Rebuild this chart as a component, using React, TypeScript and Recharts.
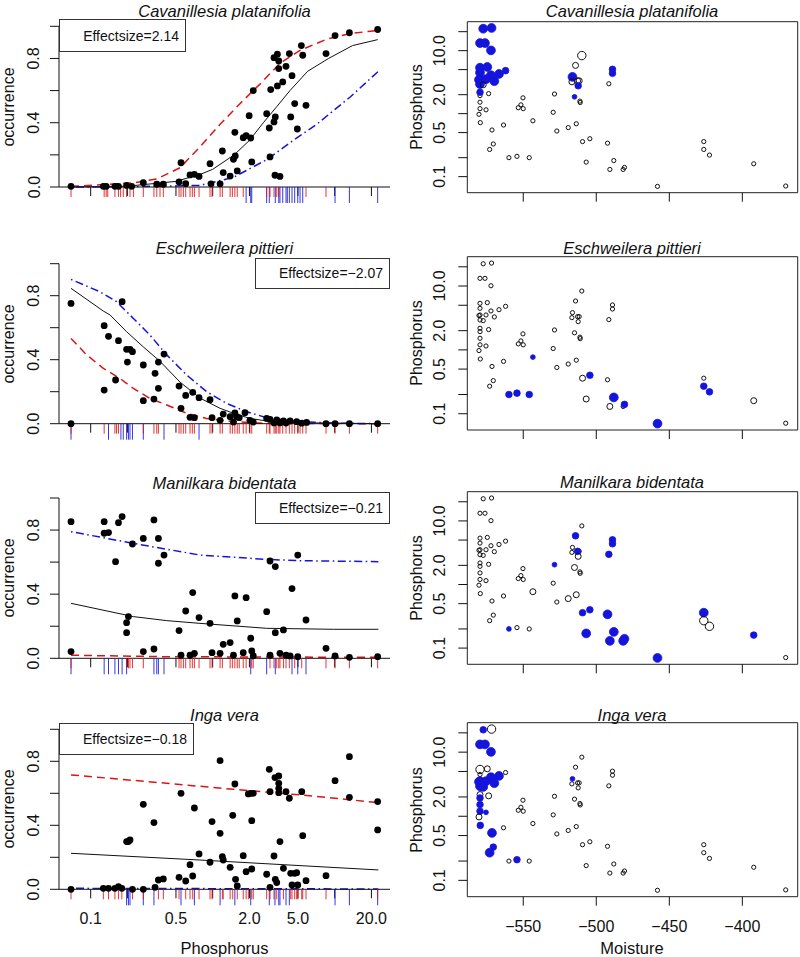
import React from 'react';
import { ComposedChart, ScatterChart, Scatter, Line, XAxis, YAxis, ReferenceArea } from 'recharts';

const FONT = '"Liberation Sans", Arial, Helvetica, sans-serif';
const INK = '#111111';
const RED = '#DD1414';
const BLUE = '#1414DD';

// ---------------- axis ticks ----------------
const phosphorusTicks = [0.1, 0.2, 0.5, 1, 2, 5, 10, 20];
const phosphorusXLabels: Record<string, string> = { '0.1': '0.1', '0.5': '0.5', '2': '2.0', '5': '5.0', '20': '20.0' };
const phosphorusYLabels: Record<string, string> = { '0.1': '0.1', '0.5': '0.5', '2': '2.0', '10': '10.0' };
const occurrenceTicks = [0, 0.2, 0.4, 0.6, 0.8, 1];
const occurrenceLabels: Record<string, string> = { '0': '0.0', '0.4': '0.4', '0.8': '0.8' };
const moistureTicks = [-550, -500, -450, -400];
const moistureLabels: Record<string, string> = { '-550': '\u2212550', '-500': '\u2212500', '-450': '\u2212450', '-400': '\u2212400' };

// ---------------- species ----------------
const speciesNames = ['Cavanillesia platanifolia', 'Eschweilera pittieri', 'Manilkara bidentata', 'Inga vera'];
const effectSizes = ['2.14', '\u22122.07', '\u22120.21', '\u22120.18'];

// ---------------- sites (right column) ----------------
const siteMoisture = [-577.4, -571.7, -579.6, -576.2, -572.1, -579.6, -579.6, -574.6, -572.1, -566.6,
  -562.1, -579.6, -580.3, -575.5, -569.8, -579.6, -577.4, -573.7, -579.6, -579.6,
  -579.6, -579.6, -575.5, -580.3, -579.4, -571.4, -570.5, -573.0, -563.5, -550.2,
  -551.6, -553.4, -550.0, -543.4, -559.8, -554.3, -545.9, -529.5, -528.6, -527.0,
  -519.2, -513.7, -509.9, -514.2, -516.3, -516.7, -512.8, -511.7, -512.4, -514.9,
  -511.2, -511.0, -491.4, -488.9, -488.9, -492.3, -426.4, -370.3, -504.4, -488.0,
  -480.7, -458.1, -426.4, -422.5, -509.4, -506.9, -490.7, -481.6, -392.2];
const sitePhosphorus = [22.3, 22.9, 13.2, 13.2, 10.1, 5.36, 4.48, 5.5, 4.07, 4.26,
  4.81, 3.52, 3.45, 3.52, 3.28, 2.94, 2.87, 2.08, 2.18, 1.93,
  1.52, 1.20, 1.15, 0.976, 0.72, 0.55, 0.33, 0.27, 0.66, 1.78,
  1.38, 1.24, 1.20, 0.77, 0.20, 0.21, 0.20, 1.05, 2.05, 0.53,
  0.60, 0.69, 8.35, 5.83, 3.83, 3.2, 3.32, 3.32, 2.77, 1.85,
  1.58, 1.50, 2.98, 5.05, 4.37, 0.34, 0.36, 0.071, 0.40, 0.18,
  0.14, 0.070, 0.27, 0.22, 0.36, 0.17, 0.13, 0.13, 0.16];
// abundance class per site: 0 absent, 1-3 present (blue, increasing), 4-5 larger open symbols
const cavAbundance = [3, 3, 3, 3, 3, 3, 3, 3, 3, 3, 2, 3, 3, 3, 3, 3, 4, 0, 2, 0,
  0, 0, 0, 0, 0, 0, 0, 0, 0, 0, 0, 0, 0, 0, 0, 0, 0, 0, 0, 0,
  0, 0, 5, 4, 3, 4, 4, 4, 2, 1, 0, 0, 0, 2, 2, 0, 0, 0, 0, 0,
  0, 0, 0, 0, 0, 0, 0, 0, 0];
const eschAbundance = [0, 0, 0, 0, 0, 0, 0, 0, 0, 0, 0, 0, 0, 0, 0, 0, 0, 0, 0, 0,
  0, 0, 0, 0, 0, 0, 0, 0, 0, 0, 0, 0, 0, 1, 2, 2, 2, 0, 0, 0,
  0, 0, 0, 0, 0, 0, 0, 0, 0, 0, 0, 0, 0, 0, 0, 0, 0, 0, 2, 3,
  2, 3, 2, 2, 4, 4, 4, 0, 4];
const manAbundance = [0, 0, 0, 0, 0, 0, 0, 0, 0, 0, 0, 0, 0, 0, 0, 0, 0, 0, 0, 0,
  0, 0, 0, 0, 0, 0, 0, 0, 0, 0, 0, 0, 0, 4, 1, 0, 0, 0, 1, 0,
  4, 4, 0, 2, 0, 0, 2, 0, 4, 4, 0, 0, 2, 2, 2, 3, 3, 0, 2, 3,
  3, 3, 5, 5, 2, 3, 3, 3, 2];
const ingaAbundance = [2, 5, 3, 3, 3, 5, 0, 4, 3, 3, 0, 3, 3, 3, 3, 3, 3, 4, 4, 2,
  2, 2, 1, 4, 2, 3, 2, 3, 0, 0, 0, 0, 0, 0, 0, 2, 0, 0, 0, 0,
  0, 0, 0, 0, 1, 0, 0, 0, 0, 0, 0, 0, 0, 0, 0, 0, 0, 0, 0, 0,
  0, 0, 0, 0, 0, 0, 0, 0, 0];

// ---------------- occurrence points (left column) ----------------
const cavP = [0.069, 0.127, 0.134, 0.158, 0.169, 0.197, 0.217, 0.270, 0.348, 0.394, 0.530, 0.550, 0.601, 0.652, 0.708, 0.773, 0.951, 0.969, 1.15, 1.20, 1.22, 1.39, 1.48, 1.53, 1.52, 1.59, 1.78, 1.88, 2.05, 1.99, 2.09, 2.15, 2.77, 2.91, 2.95, 2.99, 3.18, 3.26, 3.18, 3.39, 3.48, 3.48, 3.39, 3.75, 3.24, 3.56, 3.99, 4.25, 4.47, 4.36, 4.70, 4.94, 5.33, 5.47, 5.82, 8.49, 10.07, 13.2, 22.5];
const cavOcc = [0.004, 0.004, 0.004, 0.004, 0.004, 0.01, 0.004, 0.027, 0.017, 0.017, 0.031, 0.151, 0.021, 0.075, 0.079, 0.066, 0.145, 0.02, 0.02, 0.224, 0.09, 0.068, 0.172, 0.193, 0.34, 0.10, 0.307, 0.32, 0.305, 0.444, 0.156, 0.60, 0.456, 0.367, 0.187, 0.606, 0.405, 0.436, 0.805, 0.826, 0.784, 0.737, 0.629, 0.654, 0.073, 0.066, 0.751, 0.83, 0.693, 0.436, 0.519, 0.361, 0.88, 0.82, 0.508, 0.83, 0.942, 0.96, 0.98];
const eschP = [0.069, 0.069, 0.129, 0.129, 0.140, 0.160, 0.169, 0.181, 0.197, 0.210, 0.220, 0.200, 0.270, 0.270, 0.330, 0.337, 0.359, 0.359, 0.399, 0.530, 0.550, 0.601, 0.652, 0.686, 0.708, 0.773, 0.951, 0.988, 1.15, 1.22, 1.39, 1.52, 1.57, 1.65, 1.84, 2.02, 2.77, 2.95, 3.35, 3.80, 4.31, 4.88, 5.89, 8.49, 10.07, 13.2, 22.5, 1.48, 2.15, 3.18, 3.56, 3.99, 5.37];
const eschOcc = [0.752, 0.0, 0.6125, 0.21, 0.546, 0.273, 0.519, 0.7625, 0.465, 0.465, 0.45, 0.385, 0.367, 0.144, 0.154, 0.315, 0.221, 0.385, 0.435, 0.235, 0.096, 0.177, 0.04, 0.196, 0.0375, 0.1625, 0.15, 0.0375, 0.021, 0.06, 0.044, 0.067, 0.044, 0.0375, 0.069, 0.021, 0.033, 0.027, 0.023, 0.017, 0.017, 0.0125, 0.008, 0, 0, 0, 0, 0.01, 0.01, 0.005, 0.005, 0.004, 0.003];
const manP = [0.069, 0.069, 0.129, 0.129, 0.140, 0.160, 0.169, 0.181, 0.220, 0.197, 0.204, 0.197, 0.270, 0.270, 0.330, 0.330, 0.359, 0.359, 0.399, 0.530, 0.550, 0.601, 0.652, 0.686, 0.708, 0.773, 0.951, 0.988, 1.15, 1.22, 1.39, 1.52, 1.48, 1.59, 1.78, 1.88, 2.05, 2.09, 2.15, 2.77, 2.95, 2.95, 3.26, 3.26, 3.56, 3.80, 3.99, 4.47, 4.98, 4.31, 4.98, 5.82, 8.49, 10.07, 13.2, 22.5];
const manOcc = [0.852, 0.042, 0.852, 0.78, 0.784, 0.603, 0.846, 0.884, 0.713, 0.222, 0.26, 0.16, 0.748, 0.042, 0.863, 0.058, 0.748, 0.593, 0.644, 0.173, 0.019, 0.295, 0.019, 0.41, 0.031, 0.254, 0.218, 0.035, 0.031, 0.087, 0.098, 0.389, 0.019, 0.233, 0.035, 0.378, 0.125, 0.046, 0.015, 0.291, 0.607, 0.019, 0.572, 0.16, 0.031, 0.177, 0.019, 0.435, 0.644, 0.015, 0.01, 0.239, 0.062, 0.015, 0.006, 0.01];
const ingaP = [0.069, 0.127, 0.140, 0.158, 0.169, 0.180, 0.197, 0.204, 0.210, 0.220, 0.270, 0.270, 0.330, 0.337, 0.359, 0.394, 0.530, 0.550, 0.601, 0.652, 0.686, 0.708, 0.773, 0.951, 0.988, 1.15, 1.15, 1.20, 1.22, 1.39, 1.46, 1.52, 1.54, 1.59, 1.78, 1.88, 1.96, 2.05, 2.09, 2.09, 2.15, 2.77, 2.91, 2.95, 2.95, 3.18, 3.24, 3.26, 3.35, 3.48, 3.48, 3.48, 3.48, 3.56, 3.80, 3.99, 4.25, 4.36, 4.47, 4.70, 4.88, 4.98, 5.37, 5.47, 5.82, 8.49, 10.07, 13.2, 13.2, 22.5, 22.5];
const ingaOcc = [0, 0.006, 0.006, 0.006, 0.017, 0.006, 0.298, 0.298, 0.308, 0, 0.531, 0, 0.417, 0.0125, 0.058, 0.065, 0.075, 0.60, 0.052, 0.154, 0.083, 0.508, 0.221, 0.169, 0.423, 0.804, 0.35, 0.204, 0.183, 0.1375, 0.4625, 0.658, 0.0625, 0.021, 0.21, 0.11, 0.596, 0.6, 0.429, 0.127, 0.6, 0.094, 0.75, 0.61, 0.0125, 0.208, 0.698, 0.0625, 0.042, 0.708, 0.6625, 0.631, 0.604, 0.298, 0.131, 0.61, 0.569, 0.1, 0.027, 0.1, 0.104, 0.027, 0.61, 0.335, 0.054, 0.085, 0.679, 0.829, 0.575, 0.548, 0.371];

// ---------------- fitted curves ----------------
const cavBlackP = [0.069, 0.2, 0.5, 0.8, 1.0, 1.5, 2.0, 2.6, 3.35, 4.3, 6.0, 8.9, 14, 22.5];
const cavBlackY = [0.0, 0.005, 0.035, 0.08, 0.11, 0.2, 0.29, 0.4, 0.5, 0.6, 0.72, 0.8, 0.88, 0.917];
const cavRedP = [0.069, 0.224, 0.348, 0.54, 0.787, 1.15, 1.68, 2.44, 3.56, 5.2, 8.6, 13.4, 22.8];
const cavRedY = [0.004, 0.025, 0.05, 0.12, 0.25, 0.39, 0.52, 0.64, 0.77, 0.85, 0.92, 0.955, 0.975];
const cavBlueP = [0.069, 0.224, 0.787, 1.48, 2.77, 4.58, 7.11, 13.4, 22.8];
const cavBlueY = [0, 0.002, 0.01, 0.06, 0.17, 0.29, 0.39, 0.56, 0.72];
const eschBlackP = [0.069, 0.127, 0.144, 0.197, 0.270, 0.370, 0.540, 0.787, 1.15, 1.48, 2.02, 2.77, 5.2, 22.5];
const eschBlackY = [0.846, 0.704, 0.68, 0.575, 0.48, 0.39, 0.26, 0.16, 0.096, 0.065, 0.033, 0.017, 0.006, 0];
const eschRedP = [0.069, 0.0927, 0.127, 0.174, 0.224, 0.306, 0.420, 0.612, 0.893, 1.48, 2.77, 22.5];
const eschRedY = [0.533, 0.43, 0.346, 0.283, 0.22, 0.158, 0.117, 0.065, 0.033, 0.0125, 0.002, 0];
const eschBlueP = [0.069, 0.119, 0.163, 0.224, 0.306, 0.420, 0.612, 0.893, 1.30, 1.90, 2.77, 5.2, 9.75, 22.5];
const eschBlueY = [0.902, 0.825, 0.7625, 0.658, 0.554, 0.43, 0.304, 0.2, 0.127, 0.075, 0.0375, 0.0125, 0.004, 0];
const manBlackP = [0.069, 0.224, 0.42, 0.787, 2.77, 9.75, 22.8];
const manBlackY = [0.343, 0.26, 0.235, 0.218, 0.187, 0.181, 0.181];
const manRedP = [0.069, 0.42, 22.8];
const manRedY = [0.019, 0.01, 0.006];
const manBlueP = [0.069, 0.224, 0.787, 2.77, 5.2, 22.8];
const manBlueY = [0.79, 0.717, 0.644, 0.617, 0.609, 0.603];
const ingaBlackP = [0.069, 0.787, 5.2, 22.8];
const ingaBlackY = [0.225, 0.183, 0.148, 0.121];
const ingaRedP = [0.069, 0.42, 1.48, 5.2, 22.8];
const ingaRedY = [0.715, 0.6625, 0.625, 0.59, 0.542];
const ingaBlueP = [0.069, 22.8];
const ingaBlueY = [0.006, 0.002];

// ---------------- rugs ----------------
const cavRugRed = [0.069, 0.129, 0.134, 0.138, 0.158, 0.169, 0.176, 0.185, 0.197, 0.210, 0.224, 0.270, 0.330, 0.348, 0.370, 0.394, 0.530, 0.550, 0.575, 0.601, 0.652, 0.681, 0.708, 0.773, 0.951, 0.988, 1.15, 1.20, 1.39, 1.45, 1.52, 1.59, 1.78, 2.77, 2.95, 3.18, 3.35, 3.48, 5.82, 8.49];
const cavRugBlue = [1.88, 2.05, 2.09, 2.77, 2.91, 3.26, 3.48, 3.56, 3.75, 3.99, 4.09, 4.25, 4.47, 4.70, 4.98, 5.20, 5.47, 10.07, 13.2, 22.5];
const eschRugRed = [0.069, 0.129, 0.158, 0.163, 0.169, 0.270, 0.330, 0.348, 0.359, 0.530, 0.550, 0.575, 0.601, 0.652, 0.681, 0.708, 0.951, 0.988, 1.15, 1.20, 1.39, 1.45, 1.52, 1.59, 1.65, 1.78, 1.88, 2.02, 2.09, 2.77, 2.91, 2.95, 3.18, 3.26, 3.35, 3.48, 3.56, 3.75, 3.99, 4.25, 4.47, 4.70, 4.98, 5.20, 5.47, 5.82, 8.49, 10.07, 13.2, 22.5];
const eschRugBlue = [0.069, 0.140, 0.177, 0.185, 0.197, 0.204, 0.210, 0.220, 0.270, 0.399, 0.773];
const manRugRed = [0.069, 0.197, 0.204, 0.210, 0.220, 0.270, 0.530, 0.550, 0.575, 0.601, 0.652, 0.681, 0.708, 0.773, 0.951, 0.988, 1.15, 1.20, 1.39, 1.45, 1.52, 1.59, 1.65, 1.78, 1.88, 2.09, 2.15, 2.95, 3.18, 3.35, 3.48, 3.56, 3.80, 3.99, 4.25, 4.70, 5.37, 8.49, 10.07, 13.2, 22.5];
const manRugBlue = [0.069, 0.129, 0.140, 0.158, 0.169, 0.181, 0.197, 0.330, 0.348, 0.359, 0.399, 2.05, 2.77, 3.26, 4.47, 4.98, 5.82];
const ingaRugRed = [0.069, 0.127, 0.140, 0.158, 0.169, 0.180, 0.220, 0.270, 0.359, 0.394, 0.530, 0.601, 0.652, 0.686, 0.773, 0.951, 0.988, 1.20, 1.22, 1.39, 1.46, 1.59, 1.78, 1.88, 1.96, 2.09, 2.15, 2.77, 2.95, 3.18, 3.35, 3.80, 4.36, 4.47, 4.70, 4.88, 4.98, 5.37, 5.47, 5.82, 8.49, 22.5];
const ingaRugBlue = [0.197, 0.204, 0.210, 0.270, 0.330, 0.550, 0.708, 1.15, 1.52, 2.05, 2.91, 3.24, 3.48, 3.56, 3.99, 4.25, 10.07, 13.2, 22.5];

// ---------------- assemble ----------------
const pairs = (xs: number[], ys: number[]) => xs.map((x, i) => ({ x, y: ys[i] }));
const rugData = (xs: number[]) => xs.map((x) => ({ x, y: 0 }));

const SPECIES = [
  { dotP: cavP, dotOcc: cavOcc, bP: cavBlackP, bY: cavBlackY, rP: cavRedP, rY: cavRedY, uP: cavBlueP, uY: cavBlueY, rugR: cavRugRed, rugB: cavRugBlue, abund: cavAbundance },
  { dotP: eschP, dotOcc: eschOcc, bP: eschBlackP, bY: eschBlackY, rP: eschRedP, rY: eschRedY, uP: eschBlueP, uY: eschBlueY, rugR: eschRugRed, rugB: eschRugBlue, abund: eschAbundance },
  { dotP: manP, dotOcc: manOcc, bP: manBlackP, bY: manBlackY, rP: manRedP, rY: manRedY, uP: manBlueP, uY: manBlueY, rugR: manRugRed, rugB: manRugBlue, abund: manAbundance },
  { dotP: ingaP, dotOcc: ingaOcc, bP: ingaBlackP, bY: ingaBlackY, rP: ingaRedP, rY: ingaRedY, uP: ingaBlueP, uY: ingaBlueY, rugR: ingaRugRed, rugB: ingaRugBlue, abund: ingaAbundance },
];

// layout (pixels)
const ROWS = [
  { top: 0, height: 235, plotTop: 26.3, plotBottom: 187, boxTop: 21.7, boxBottom: 192.7, titleY: 11, rTitleY: 11 },
  { top: 235, height: 235, plotTop: 28.7, plotBottom: 188.7, boxTop: 21.7, boxBottom: 195, titleY: 13.3, rTitleY: 13.3 },
  { top: 470, height: 230, plotTop: 28, plotBottom: 188.3, boxTop: 21.7, boxBottom: 194.3, titleY: 12.7, rTitleY: 11.7 },
  { top: 700, height: 257, plotTop: 29.3, plotBottom: 189.3, boxTop: 22.7, boxBottom: 196.7, titleY: 15, rTitleY: 15 },
];
const EFFECT_BOXES = [
  { left: 59, top: 19.3, width: 127, height: 33 },
  { left: 255, top: 257.7, width: 135, height: 31.6 },
  { left: 255, top: 491.7, width: 135, height: 32.3 },
  { left: 59, top: 722.7, width: 135, height: 32.3 },
];

const txt = { fontFamily: FONT, fill: INK } as const;

const renderLeftXTick = (p: any, show: boolean) => {
  const lbl = phosphorusXLabels[String(p.payload.value)];
  if (!show || !lbl) return <g />;
  return <text x={p.x} y={Number(p.y) + 17.7} textAnchor="middle" dominantBaseline="central" fontSize={16} {...txt}>{lbl}</text>;
};
const renderOccTick = (p: any) => {
  const lbl = occurrenceLabels[String(p.payload.value)];
  if (!lbl) return <g />;
  const cx = Number(p.x) - 14;
  const cy = Number(p.y);
  return <text x={cx} y={cy} transform={`rotate(-90 ${cx} ${cy})`} textAnchor="middle" dominantBaseline="central" fontSize={16} {...txt}>{lbl}</text>;
};
const renderMoistTick = (p: any, show: boolean) => {
  const lbl = moistureLabels[String(p.payload.value)];
  if (!show || !lbl) return <g />;
  return <text x={p.x} y={Number(p.y) + 19} textAnchor="middle" dominantBaseline="central" fontSize={16} {...txt}>{lbl}</text>;
};
const renderPhosYTick = (p: any) => {
  const lbl = phosphorusYLabels[String(p.payload.value)];
  if (!lbl) return <g />;
  const cx = Number(p.x) - 16.3;
  const cy = Number(p.y);
  return <text x={cx} y={cy} transform={`rotate(-90 ${cx} ${cy})`} textAnchor="middle" dominantBaseline="central" fontSize={16} {...txt}>{lbl}</text>;
};

const rugShape = (color: string, len: number, opacity: number) => (p: any) => (
  <line x1={p.cx} x2={p.cx} y1={p.cy} y2={p.cy + len} stroke={color} strokeWidth={1} strokeOpacity={opacity} />
);
const dotShape = (p: any) => <circle cx={p.cx} cy={p.cy} r={3.4} fill="#000" />;

const SYMBOL_R = [2.1, 2.4, 3.3, 4.4, 3.0, 4.2];
const siteShape = (p: any) => {
  const c = (p.payload ?? p).c;
  const r = SYMBOL_R[c];
  if (c === 0 || c >= 4) return <circle cx={p.cx} cy={p.cy} r={r} fill="none" stroke={INK} strokeWidth={1} />;
  return <circle cx={p.cx} cy={p.cy} r={r} fill={BLUE} stroke={BLUE} strokeWidth={0.8} />;
};

const Title = ({ x, y, children }: any) => (
  <div style={{ position: 'absolute', left: x, top: y, transform: 'translate(-50%, -50%)', fontFamily: FONT, fontStyle: 'italic', fontSize: 16.5, lineHeight: 1, whiteSpace: 'nowrap', color: INK }}>{children}</div>
);
const VLabel = ({ x, y, children }: any) => (
  <div style={{ position: 'absolute', left: x, top: y, transform: 'translate(-50%, -50%) rotate(-90deg)', fontFamily: FONT, fontSize: 16, lineHeight: 1, whiteSpace: 'nowrap', color: INK }}>{children}</div>
);
const HLabel = ({ x, y, children }: any) => (
  <div style={{ position: 'absolute', left: x, top: y, transform: 'translate(-50%, -50%)', fontFamily: FONT, fontSize: 16.5, lineHeight: 1, whiteSpace: 'nowrap', color: INK }}>{children}</div>
);

function LeftPanel({ idx }: { idx: number }) {
  const g = ROWS[idx];
  const sp = SPECIES[idx];
  const showX = idx === 3;
  const dots = pairs(sp.dotP, sp.dotOcc);
  return (
    <div style={{ position: 'absolute', left: 0, top: g.top, width: 400, height: g.height }}>
      <ComposedChart width={400} height={g.height} margin={{ top: g.plotTop, right: 10, bottom: g.height - g.plotBottom - 30, left: 19 }}>
        <XAxis type="number" dataKey="x" scale="log" domain={[0.055, 28.4]} ticks={phosphorusTicks} interval={0} height={30} tickSize={9}
          axisLine={{ stroke: INK }} tickLine={{ stroke: INK }} tick={(p: any) => renderLeftXTick(p, showX)} />
        <YAxis type="number" dataKey="y" domain={[0, 1]} ticks={occurrenceTicks} interval={0} width={40} tickSize={9}
          axisLine={{ stroke: INK }} tickLine={{ stroke: INK }} tick={renderOccTick} />
        <Scatter data={rugData(sp.rugB)} shape={rugShape(BLUE, 16, 0.85)} isAnimationActive={false} />
        <Scatter data={rugData(sp.rugR)} shape={rugShape(RED, 10, 0.85)} isAnimationActive={false} />
        <Scatter data={dots} shape={dotShape} isAnimationActive={false} />
        <Line data={pairs(sp.bP, sp.bY)} dataKey="y" type="linear" stroke={INK} strokeWidth={1} dot={false} activeDot={false} isAnimationActive={false} />
        <Line data={pairs(sp.rP, sp.rY)} dataKey="y" type="linear" stroke={RED} strokeWidth={1.5} strokeDasharray="8 5" dot={false} activeDot={false} isAnimationActive={false} />
        <Line data={pairs(sp.uP, sp.uY)} dataKey="y" type="linear" stroke={BLUE} strokeWidth={1.5} strokeDasharray="1.5 3.5 8 3.5" dot={false} activeDot={false} isAnimationActive={false} />
      </ComposedChart>
      <Title x={224.5} y={g.titleY}>{speciesNames[idx]}</Title>
      <VLabel x={9} y={(g.plotTop + g.plotBottom) / 2}>occurrence</VLabel>
    </div>
  );
}

function RightPanel({ idx }: { idx: number }) {
  const g = ROWS[idx];
  const sp = SPECIES[idx];
  const showX = idx === 3;
  const data = siteMoisture
    .map((m, i) => ({ x: m, y: sitePhosphorus[i], c: sp.abund[i] }))
    .sort((a, b) => (a.c === 0 ? 0 : 1) - (b.c === 0 ? 0 : 1));
  return (
    <div style={{ position: 'absolute', left: 400, top: g.top, width: 400, height: g.height }}>
      <ScatterChart width={400} height={g.height} margin={{ top: g.boxTop, right: 2.3, bottom: g.height - g.boxBottom - 30, left: 27.3 }}>
        <XAxis type="number" dataKey="x" domain={[-588.3, -362.1]} ticks={moistureTicks} interval={0} height={30} tickSize={9}
          axisLine={false} tickLine={{ stroke: INK }} tick={(p: any) => renderMoistTick(p, showX)} />
        <YAxis type="number" dataKey="y" scale="log" domain={[0.0556, 28.8]} ticks={phosphorusTicks} interval={0} width={40} tickSize={9}
          axisLine={false} tickLine={{ stroke: INK }} tick={renderPhosYTick} />
        <ReferenceArea x1={-588.3} x2={-362.1} y1={0.0556} y2={28.8} fill="none" stroke="#222" strokeWidth={1} ifOverflow="visible" />
        <Scatter data={data} shape={siteShape} isAnimationActive={false} />
      </ScatterChart>
      <Title x={232} y={g.rTitleY}>{speciesNames[idx]}</Title>
      <VLabel x={17} y={(g.boxTop + g.boxBottom) / 2}>Phosphorus</VLabel>
    </div>
  );
}

export default function App() {
  return (
    <div style={{ position: 'absolute', left: 0, top: 0, width: 800, height: 957, background: '#fff', overflow: 'hidden' }}>
      {[0, 1, 2, 3].map((i) => <LeftPanel key={`l${i}`} idx={i} />)}
      {[0, 1, 2, 3].map((i) => <RightPanel key={`r${i}`} idx={i} />)}
      {EFFECT_BOXES.map((b, i) => (
        <div key={`e${i}`} style={{ position: 'absolute', left: b.left, top: b.top, width: b.width, height: b.height, boxSizing: 'border-box', border: '1px solid #333', fontFamily: FONT, fontSize: 14, color: INK, display: 'flex', alignItems: 'center', justifyContent: 'flex-end', paddingRight: 6, whiteSpace: 'nowrap' }}>
          {`Effectsize=${effectSizes[i]}`}
        </div>
      ))}
      <HLabel x={224.5} y={948}>Phosphorus</HLabel>
      <HLabel x={632} y={948}>Moisture</HLabel>
    </div>
  );
}
